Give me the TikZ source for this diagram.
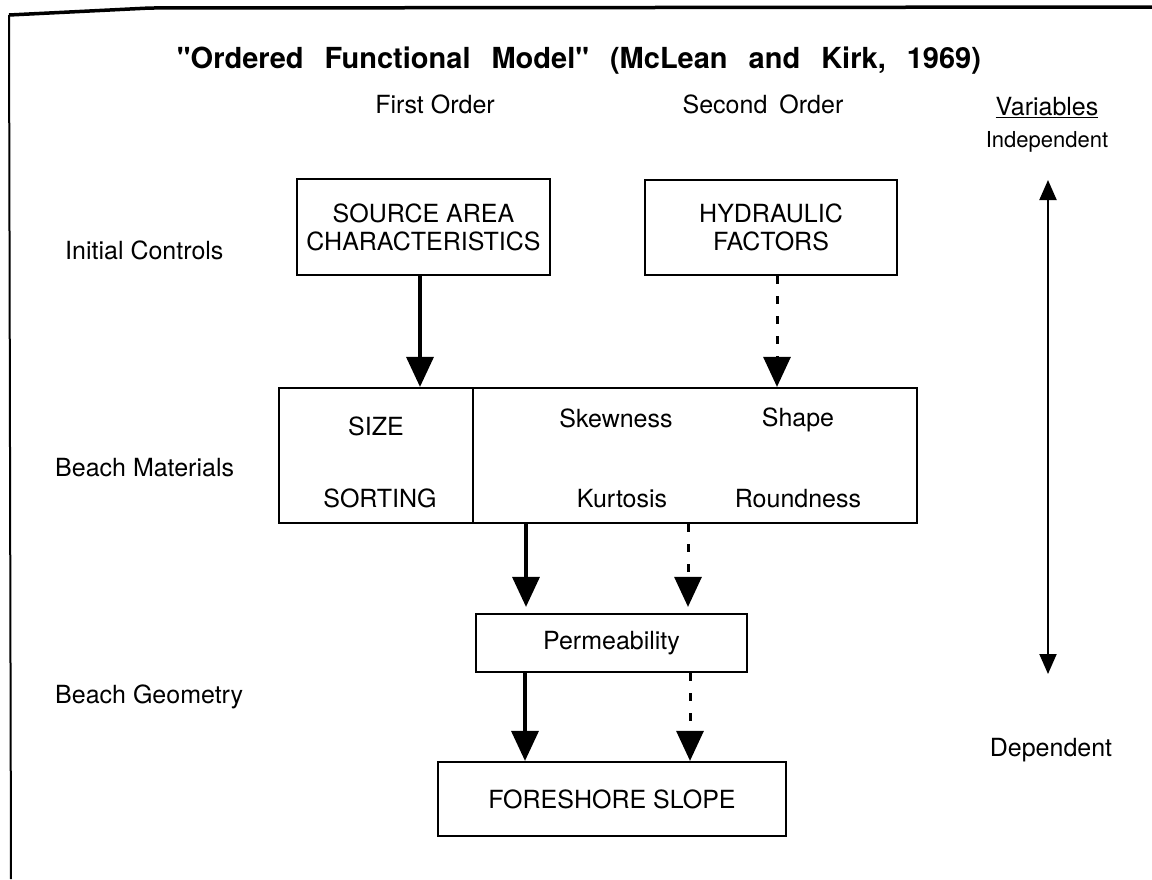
\documentclass[tikz,border=0pt]{standalone}
\usepackage{fontspec}
\setmainfont{TeX Gyre Heros}[Ligatures=TeXOff]
\usetikzlibrary{arrows.meta}
\begin{document}
\begin{tikzpicture}[x=1pt,y=-1pt,
  box/.style={draw, line width=2.2pt, inner sep=0pt, rectangle, align=center,
              font=\fontsize{25}{28}\selectfont},
  txt/.style={inner sep=0pt, anchor=base, font=\fontsize{25}{28}\selectfont},
  lbl/.style={txt, anchor=base west},
  solidarr/.style={line width=3.5pt, -{Triangle[width=27pt,length=30pt]}},
  dasharr/.style={line width=3pt, dash pattern=on 8pt off 12pt, -{Triangle[width=27pt,length=30pt]}},
  vararr/.style={line width=2pt, {Triangle[width=17pt,length=20pt]}-{Triangle[width=17pt,length=20pt]}},
]
\fill[white] (0,0) rectangle (1152,879);
\useasboundingbox (0,0) rectangle (1152,879);

% frame
\draw[line width=3.5pt] (9,15) -- (150,8) -- (1152,7);
\draw[line width=2pt] (9,15) -- (11,879);

% title and headers
\node[inner sep=0pt, anchor=base, font=\bfseries\fontsize{29}{32}\selectfont] (title) at (579,68)
  {"Ordered\hspace{21pt}Functional\hspace{21pt}Model"\hspace{21pt}(McLean\hspace{21pt}and\hspace{21pt}Kirk,\hspace{21pt}1969)};
\node[txt] (first) at (435,113) {First Order};
\node[txt] (second) at (763,113) {Second\hspace{12pt}Order};
\node[txt] (vars) at (1047,115) {\underline{Variables}};
\node[txt, font=\fontsize{22}{26}\selectfont] (indep) at (1047,147) {Independent};
\node[txt] (dep) at (1051,756) {Dependent};

% row labels
\node[lbl] (ic) at (65,259) {Initial Controls};
\node[lbl] (bm) at (55,476) {Beach Materials};
\node[lbl] (bg) at (55,703) {Beach Geometry};

% boxes
\node[box, minimum width=253pt, minimum height=96pt] (src) at (423.5,227) {SOURCE AREA\\CHARACTERISTICS};
\node[box, minimum width=252pt, minimum height=95pt] (hyd) at (771,227.5) {HYDRAULIC\\FACTORS};
\node[box, minimum width=194pt, minimum height=135pt] (matL) at (376,455.5) {};
\node[box, minimum width=444pt, minimum height=135pt] (matR) at (695,455.5) {};
\node[box, minimum width=271pt, minimum height=58pt] (perm) at (611.5,643) {Permeability};
\node[box, minimum width=348pt, minimum height=74pt] (fore) at (612,799) {FORESHORE SLOPE};

% material texts
\node[txt] (size) at (376,435) {SIZE};
\node[txt] (sort) at (380,507) {SORTING};
\node[txt] (skew) at (616,427) {Skewness};
\node[txt] (shape) at (798,426) {Shape};
\node[txt] (kurt) at (622,507) {Kurtosis};
\node[txt] (round) at (798,507) {Roundness};

% connectors
\draw[solidarr] ([xshift=-3.5pt]src.south) -- ([xshift=-3.5pt]src.south |- matL.north);
\draw[dasharr] ([xshift=6pt]hyd.south) -- ([xshift=6pt]hyd.south |- matR.north);
\draw[solidarr, shorten >=6pt] ([xshift=-85.5pt]perm.north |- matL.south) -- ([xshift=-85.5pt]perm.north);
\draw[dasharr, shorten >=6pt] ([xshift=76.5pt]perm.north |- matR.south) -- ([xshift=76.5pt]perm.north);
\draw[solidarr] ([xshift=-86.5pt]perm.south) -- ([xshift=-86.5pt]perm.south |- fore.north);
\draw[dasharr] ([xshift=78.5pt]perm.south) -- ([xshift=78.5pt]perm.south |- fore.north);

% independent-dependent scale
\coordinate (vtop) at (1048,180);
\coordinate (vbot) at (1048,674);
\draw[vararr] (vtop) -- (vbot);
\end{tikzpicture}
\end{document}
